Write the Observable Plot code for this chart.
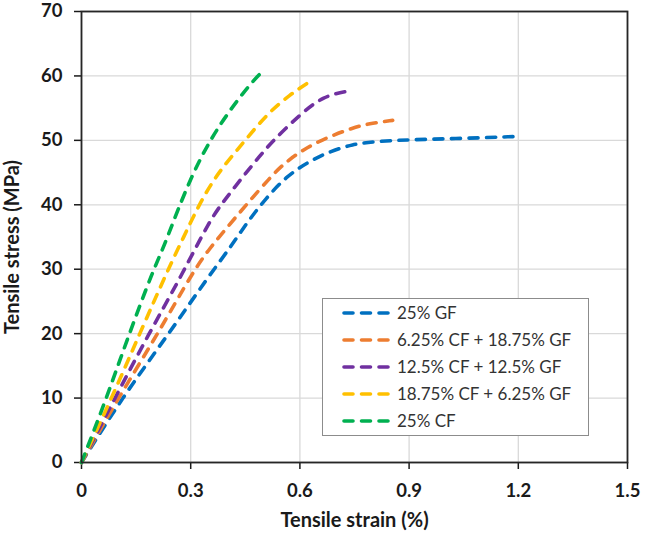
<!DOCTYPE html>
<html>
<head>
<meta charset="utf-8">
<script src="https://cdn.jsdelivr.net/npm/d3@7"></script>
<script src="https://cdn.jsdelivr.net/npm/@observablehq/plot@0.6"></script>
<style>
  body { margin: 0; background: #fff; }
  #wrap { position: relative; width: 645px; height: 542px; }
  #legend { position: absolute; left: 322px; top: 298px; width: 267px; height: 138px;
    border: 1px solid #8c8c8c; background: #fff; box-sizing: border-box;
    font-family: Lato, sans-serif; font-size: 17px; color: #333; }
  .sw { position: absolute; left: 18px; }
  .lb { position: absolute; left: 74px; white-space: nowrap; line-height: 20px; }
</style>
</head>
<body>
<div id="wrap"><div id="legend"></div></div>
<script>
const seriesNames = ["25% GF", "6.25% CF + 18.75% GF", "12.5% CF + 12.5% GF", "18.75% CF + 6.25% GF", "25% CF"];
const seriesColors = ["#0070C0", "#ED7D31", "#7030A0", "#FFC000", "#00B050"];

const gf25Strain = [0, 0.111, 0.24, 0.353, 0.408, 0.454, 0.508, 0.563, 0.618, 0.682, 0.746, 0.80, 0.896, 1.05, 1.195];
const gf25Stress = [0, 10, 20, 29.2, 33.3, 37.2, 41.1, 44.4, 46.5, 48.3, 49.4, 49.8, 50.1, 50.3, 50.6];
const cf625Strain = [0, 0.101, 0.21, 0.307, 0.353, 0.399, 0.454, 0.518, 0.554, 0.609, 0.673, 0.746, 0.80, 0.855];
const cf625Stress = [0, 10, 20, 29.7, 33.3, 36.4, 40.1, 44.2, 46.3, 48.6, 50.4, 52.0, 52.7, 53.1];
const cf125Strain = [0, 0.092, 0.185, 0.275, 0.353, 0.394, 0.444, 0.49, 0.527, 0.6, 0.664, 0.737];
const cf125Stress = [0, 10, 20, 29, 37.7, 40.8, 44.4, 47.6, 50, 54, 56.9, 57.7];
const cf1875Strain = [0, 0.083, 0.16, 0.238, 0.28, 0.325, 0.375, 0.444, 0.508, 0.572, 0.632];
const cf1875Stress = [0, 10, 20, 30, 34.9, 40.3, 45, 49.6, 54, 57.1, 59.3];
const cf25Strain = [0, 0.069, 0.131, 0.198, 0.225, 0.263, 0.307, 0.353, 0.399, 0.462, 0.499];
const cf25Stress = [0, 10, 20, 30, 33.3, 39, 45, 50, 54, 58.7, 60.8];

const xTicks = [0, 0.3, 0.6, 0.9, 1.2, 1.5];
const yTicks = [0, 10, 20, 30, 40, 50, 60, 70];

const strainSets = [gf25Strain, cf625Strain, cf125Strain, cf1875Strain, cf25Strain];
const stressSets = [gf25Stress, cf625Stress, cf125Stress, cf1875Stress, cf25Stress];
const rows = [];
seriesNames.forEach((name, i) => {
  strainSets[i].forEach((s, j) => rows.push({series: name, strain: s, stress: stressSets[i][j]}));
});

const dash = "9,8.5";
const fmtX = d => d === 0 ? "0" : d3.format(".1f")(d);
const chart = Plot.plot({
  width: 645,
  height: 542,
  marginLeft: 81,
  marginRight: 18,
  marginTop: 11,
  marginBottom: 80,
  style: {fontFamily: "Lato, sans-serif", fontSize: "18.5px", fontWeight: "bold", color: "#1a1a1a", background: "transparent", overflow: "visible"},
  x: {domain: [0, 1.5]},
  y: {domain: [0, 70]},
  color: {domain: seriesNames, range: seriesColors},
  marks: [
    Plot.gridX(xTicks, {stroke: "#d9d9d9", strokeOpacity: 1, strokeWidth: 1.3}),
    Plot.gridY(yTicks, {stroke: "#d9d9d9", strokeOpacity: 1, strokeWidth: 1.3}),
    Plot.axisX(xTicks, {tickSize: 7, tickPadding: 14, strokeWidth: 1.5, label: null, tickFormat: fmtX}),
    Plot.axisY(yTicks, {tickSize: 7, tickPadding: 12, strokeWidth: 1.5, label: null}),
    Plot.line(rows, {x: "strain", y: "stress", z: "series", stroke: "series", curve: "basis",
      strokeWidth: 3.6, strokeDasharray: dash, strokeLinecap: "round"}),
    Plot.frame({stroke: "#262626", strokeWidth: 1.8}),
    Plot.text(["Tensile strain (%)"], {frameAnchor: "bottom", textAnchor: "middle", dy: 64, fontSize: 20, fontWeight: "bold", fill: "#1a1a1a"}),
    Plot.text(["Tensile stress (MPa)"], {frameAnchor: "left", textAnchor: "middle", rotate: -90, dx: -69, dy: 10, fontSize: 20, fontWeight: "bold", fill: "#1a1a1a"})
  ]
});
document.getElementById("wrap").prepend(chart);

const legend = document.getElementById("legend");
seriesNames.forEach((name, i) => {
  const top = 4 + i * 27;
  const sw = document.createElementNS("http://www.w3.org/2000/svg", "svg");
  sw.setAttribute("class", "sw");
  sw.setAttribute("width", "50");
  sw.setAttribute("height", "8");
  sw.style.top = (top + 6) + "px";
  sw.innerHTML = `<line x1="3" y1="4" x2="47" y2="4" stroke="${seriesColors[i]}" stroke-width="3.6" stroke-dasharray="${dash}" stroke-linecap="round"/>`;
  legend.appendChild(sw);
  const lb = document.createElement("div");
  lb.className = "lb";
  lb.style.top = top + "px";
  lb.textContent = name;
  legend.appendChild(lb);
});
</script>
</body>
</html>
